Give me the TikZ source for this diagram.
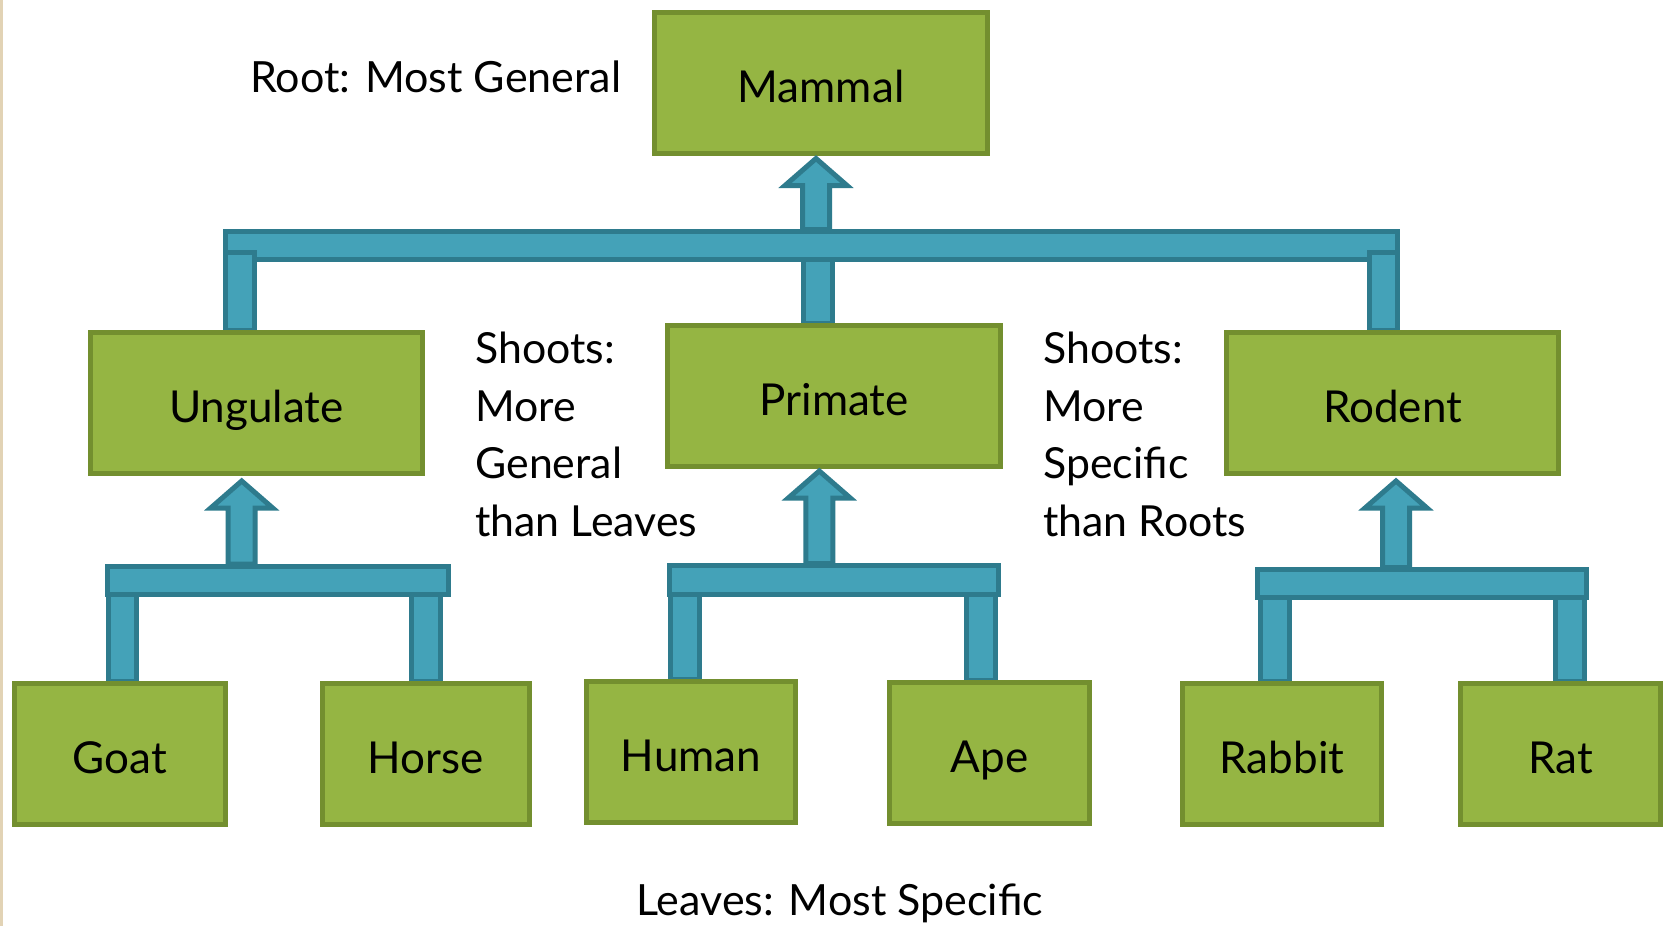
\documentclass[tikz,border=0pt]{standalone}
\usepackage{fontspec}
\setmainfont{Lato}
\usetikzlibrary{calc}
\pgfdeclarelayer{bg}
\pgfsetlayers{bg,main}
\definecolor{boxfill}{HTML}{95B543}
\definecolor{boxline}{HTML}{738F2F}
\definecolor{connfill}{HTML}{44A2B8}
\definecolor{connline}{HTML}{2E7B8D}
\definecolor{slideedge}{HTML}{E2D3B5}
\newcommand\fatup[2]{\draw[conn] #1 -- ++(31,27) -- ++(-17.5,0) -- ++(0,#2) -- ++(-27,0) -- ++(0,-#2) -- ++(-17.5,0) -- cycle;}
\begin{document}
\begin{tikzpicture}[x=0.5pt,y=-0.5pt,
  box/.style={draw=boxline, fill=boxfill, line width=2.5pt, minimum height=70.5pt, inner sep=0pt,
    font=\fontsize{22}{26}\selectfont, text height=19.5pt, text depth=0pt},
  conn/.style={draw=connline, fill=connfill, line width=2.5pt, line join=miter},
  note/.style={font=\fontsize{21.5}{26}\selectfont, inner sep=0pt, anchor=base west},
  shoot/.style={font=\fontsize{21.4}{28.7}\selectfont, align=left, inner sep=0pt, anchor=base west}]
\useasboundingbox (0,0) rectangle (1666,926);

\node[box,minimum width=166.5pt] (mammal) at (821,82.5) {Mammal};
\node[box,minimum width=166pt] (ungulate) at (256.5,403) {Ungulate};
\node[box,minimum width=166.5pt] (primate) at (834,396) {Primate};
\node[box,minimum width=166pt] (rodent) at (1392.5,403) {Rodent};
\node[box,minimum width=105.5pt] (goat) at (120,754) {Goat};
\node[box,minimum width=103.5pt] (horse) at (426,754) {Horse};
\node[box,minimum width=104.5pt] (human) at (691,752) {Human};
\node[box,minimum width=100pt] (ape) at (989.5,753) {Ape};
\node[box,minimum width=99.5pt] (rabbit) at (1282,754) {Rabbit};
\node[box,minimum width=100pt] (rat) at (1560.5,754) {Rat};

\begin{pgfonlayer}{bg}
\fill[white] (0,0) rectangle (1666,926);
\fill[slideedge] (0,0) rectangle (3,926);
% top group
\draw[conn] (803.5,255) rectangle ([xshift=-0.75pt]primate.north);
\draw[conn] (225.5,231.5) rectangle (1397.5,259.5);
\draw[conn] (225.5,252.5) rectangle ([xshift=-1pt]ungulate.north);
\draw[conn] ([xshift=-11.5pt]rodent.north) rectangle (1397.5,252.5);
% ungulate group
\draw[conn] ([xshift=-5.75pt]goat.north) rectangle ++(28,-100);
\draw[conn] ([xshift=-7.25pt]horse.north) rectangle ++(29,-100);
\draw[conn] (107.5,566.5) rectangle (448.5,594.5);
% primate group
\draw[conn] ([xshift=-10.4pt]human.north) rectangle ++(29.3,-100);
\draw[conn] ([xshift=-11.5pt]ape.north) rectangle ++(29.3,-100);
\draw[conn] (669.2,565.8) rectangle (998.5,594.2);
% rodent group
\draw[conn] ([xshift=-10.75pt]rabbit.north) rectangle ++(29,-100);
\draw[conn] ([xshift=-2.5pt]rat.north) rectangle ++(29,-100);
\draw[conn] (1257.5,569.8) rectangle (1586.5,597.5);
\end{pgfonlayer}

\fatup{([xshift=-2.5pt,yshift=-1.5pt]mammal.south)}{44}
\fatup{([xshift=-7.4pt,yshift=-2.5pt]ungulate.south)}{56}
\fatup{([xshift=-7.35pt,yshift=-1pt]primate.south)}{65.5}
\fatup{([xshift=1.75pt,yshift=-2.5pt]rodent.south)}{59.5}

\node[note] (root) at (250,92) {Root: Most General};
\node[shoot] (shootsgen) at (475,536) {Shoots:\\More\\General\\than Leaves};
\node[shoot] (shootsspec) at (1043,536) {Shoots:\\More\\Specific\\than Roots};
\node[note] (leaves) at (636,915.5) {Leaves: Most Specific};
\end{tikzpicture}
\end{document}
